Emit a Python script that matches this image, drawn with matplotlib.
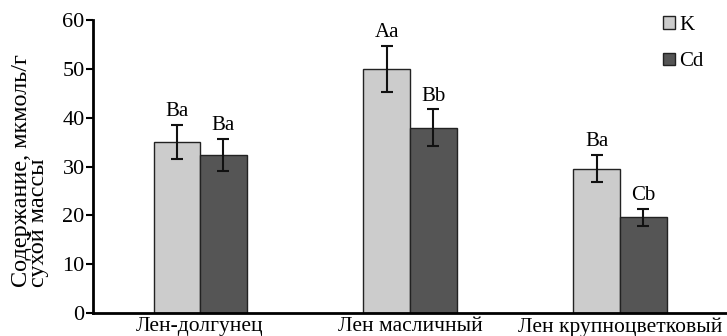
import matplotlib
matplotlib.use("Agg")
import matplotlib.pyplot as plt
import numpy as np

categories = ["Лен-долгунец", "Лен масличный", "Лен крупноцветковый"]
series_names = ["K", "Cd"]
k_values = [35.1, 50.0, 29.6]
k_errors = [3.5, 4.7, 2.7]
cd_values = [32.3, 38.0, 19.6]
cd_errors = [3.3, 3.7, 1.7]
k_letters = ["Ba", "Aa", "Ba"]
cd_letters = ["Ba", "Bb", "Cb"]
y_ticks = [0, 10, 20, 30, 40, 50, 60]

plt.rcParams['font.family'] = ['Liberation Serif', 'DejaVu Serif']

fig = plt.figure(figsize=(7.27, 3.36), dpi=100)
ax = fig.add_axes([0.128, 0.0685, 0.872, 0.8715])

x = np.arange(len(categories))
w = 0.222
colors = ["#cccccc", "#555555"]
b1 = ax.bar(x - w/2, k_values, w, color=colors[0], edgecolor="#222222", linewidth=1.0, label=series_names[0])
b2 = ax.bar(x + w/2, cd_values, w, color=colors[1], edgecolor="#222222", linewidth=1.0, label=series_names[1])
ax.errorbar(x - w/2, k_values, yerr=k_errors, fmt='none', ecolor='#111111', elinewidth=1.5, capsize=4, capthick=1.5)
ax.errorbar(x + w/2, cd_values, yerr=cd_errors, fmt='none', ecolor='#111111', elinewidth=1.5, capsize=4, capthick=1.5)

for xi, v, e, t in zip(x - w/2, k_values, k_errors, k_letters):
    ax.text(xi, v + e + 0.8, t, ha='center', va='bottom', fontsize=15)
for xi, v, e, t in zip(x + w/2, cd_values, cd_errors, cd_letters):
    ax.text(xi, v + e + 0.8, t, ha='center', va='bottom', fontsize=15)

ax.set_xlim(-0.51, 2.51)
ax.set_ylim(0, 60)
ax.set_yticks(y_ticks)
ax.set_xticks(x)
ax.set_xticklabels(categories, fontsize=15.5)
ax.tick_params(axis='x', length=0, pad=3)
ax.tick_params(axis='y', length=5, width=1.5, labelsize=16, pad=1)
for s in ['top', 'right']:
    ax.spines[s].set_visible(False)
for s in ['left', 'bottom']:
    ax.spines[s].set_linewidth(2)

ax.set_ylabel("Содержание, мкмоль/г\nсухой массы", fontsize=17.5, multialignment='left', linespacing=0.74)
ax.yaxis.set_label_coords(-0.07, 0.089)
ax.yaxis.label.set_horizontalalignment('left')

ax.legend(loc='upper right', bbox_to_anchor=(0.976, 1.044), frameon=False, fontsize=15,
          handlelength=0.55, handleheight=0.55, handletextpad=0.2, labelspacing=0.85, borderaxespad=0.0)

fig.savefig("out.png", dpi=100)
